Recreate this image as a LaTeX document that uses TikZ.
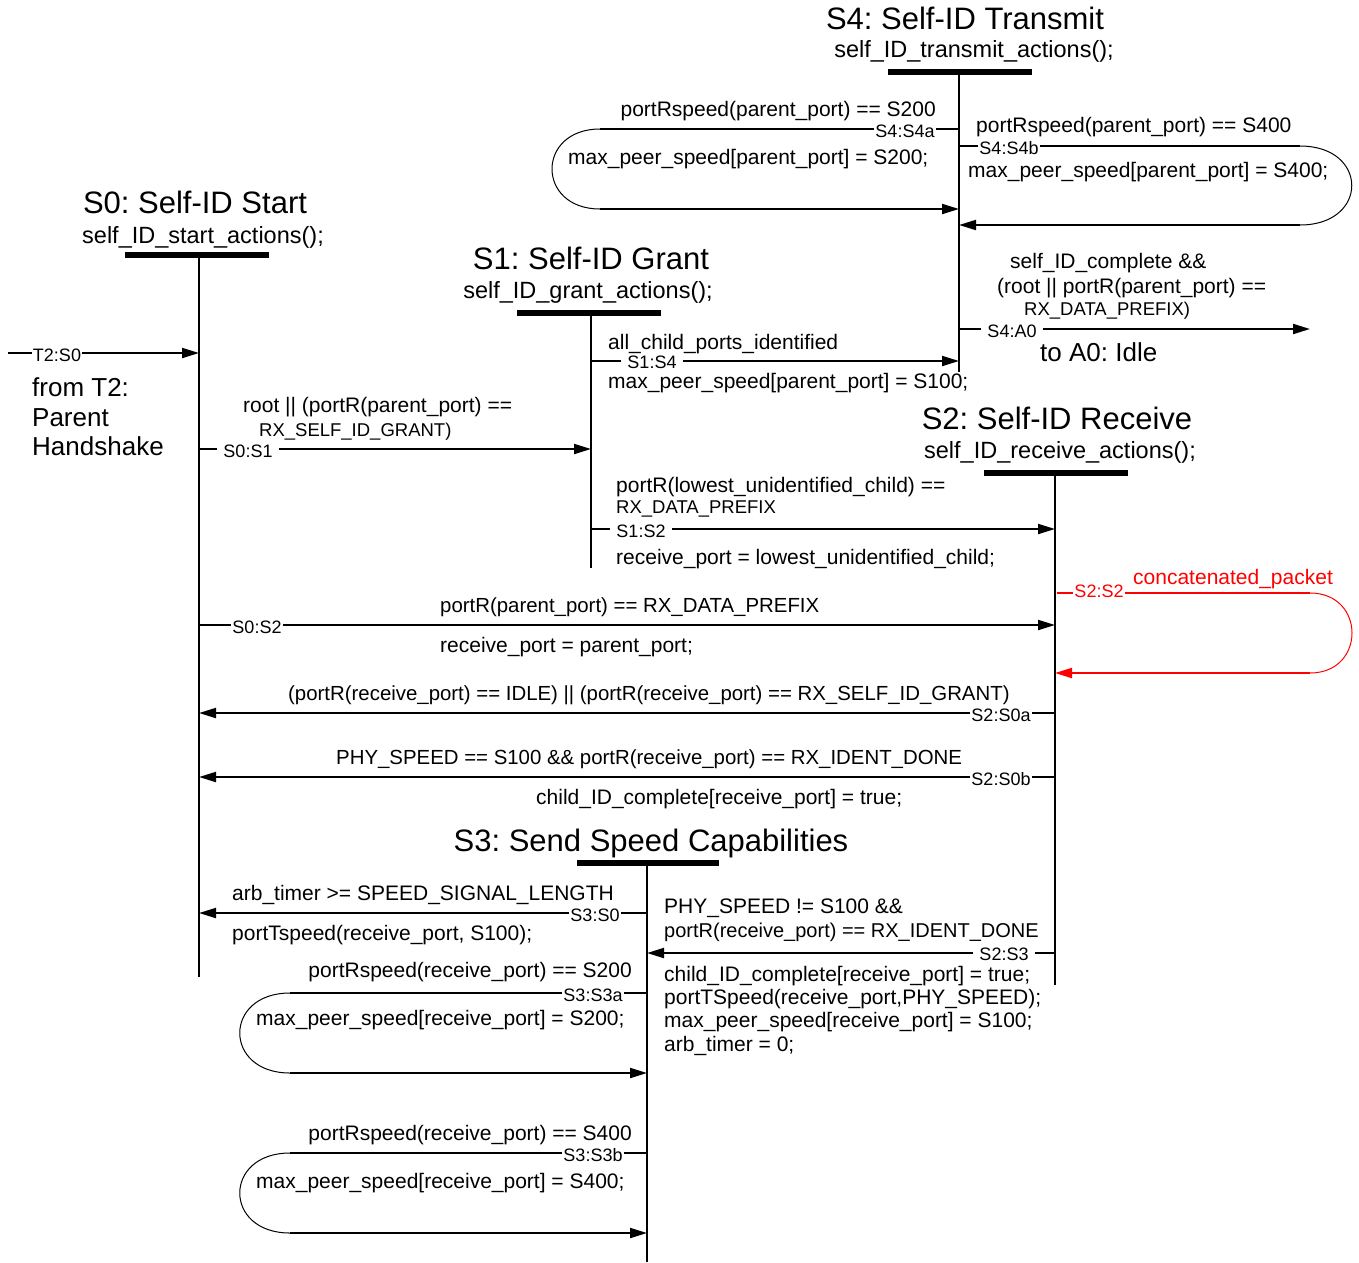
\documentclass[tikz,border=0pt]{standalone}
\usepackage{fontspec}
\setmainfont{Liberation Sans}
\usetikzlibrary{arrows.meta}
\frenchspacing
\begin{document}
\begin{tikzpicture}[x=1pt,y=-1pt,
  tt/.style={font=\fontsize{31}{34}\selectfont, inner sep=0pt, text height=22pt, text depth=2pt},
  st/.style={font=\fontsize{23.5}{27}\selectfont, inner sep=0pt, text height=17pt, text depth=1pt},
  bt/.style={font=\fontsize{26}{29.5}\selectfont, inner sep=0pt, align=left},
  nt/.style={font=\fontsize{21}{24}\selectfont, inner sep=0pt, text height=15pt, text depth=1pt},
  nts/.style={nt, font=\fontsize{20.4}{24}\selectfont},
  smt/.style={font=\fontsize{18.5}{21}\selectfont, inner sep=0pt, text height=13.3pt, text depth=1pt},
  lab/.style={font=\fontsize{18}{21}\selectfont, fill=white, inner xsep=1pt, inner ysep=0pt, text height=13pt, text depth=0pt},
  labw/.style={lab, inner xsep=6pt},
  bar/.style={line width=6pt},
  life/.style={line width=2.6pt},
  seg/.style={line width=2pt},
  tr/.style={line width=2pt, -{Triangle[length=17pt,width=10pt]}},
  arcl/.style={line width=1pt},
]
\useasboundingbox (0,0) rectangle (1359,1262);

% ---------- state bars and lifelines ----------
\coordinate (s0l) at (125,255); \coordinate (s0r) at (269,255);
\coordinate (s0t) at (199,255); \coordinate (s0e) at (199,977);
\coordinate (s1l) at (517,313); \coordinate (s1r) at (661,313);
\coordinate (s1t) at (591,313); \coordinate (s1e) at (591,568);
\coordinate (s2l) at (984,473); \coordinate (s2r) at (1128,473);
\coordinate (s2t) at (1055,473); \coordinate (s2e) at (1055,985);
\coordinate (s3l) at (577,863); \coordinate (s3r) at (719,863);
\coordinate (s3t) at (647,863); \coordinate (s3e) at (647,1262);
\coordinate (s4l) at (888,72); \coordinate (s4r) at (1032,72);
\coordinate (s4t) at (959,72); \coordinate (s4e) at (959,372);

\draw[life] (s0t) -- (s0e);
\draw[life] (s1t) -- (s1e);
\draw[life] (s2t) -- (s2e);
\draw[life] (s3t) -- (s3e);
\draw[life] (s4t) -- (s4e);
\draw[bar] (s0l) -- (s0r);
\draw[bar] (s1l) -- (s1r);
\draw[bar] (s2l) -- (s2r);
\draw[bar] (s3l) -- (s3r);
\draw[bar] (s4l) -- (s4r);

% ---------- titles ----------
\node[tt] (s4title) at (965,19) {S4: Self-ID Transmit};
\node[st] (s4sub) at (974,49) {self\_ID\_transmit\_actions();};
\node[tt] (s0title) at (195,203) {S0: Self-ID Start};
\node[st] (s0sub) at (203,235) {self\_ID\_start\_actions();};
\node[tt] (s1title) at (591,259) {S1: Self-ID Grant};
\node[st] (s1sub) at (588,290) {self\_ID\_grant\_actions();};
\node[tt] (s2title) at (1057,419) {S2: Self-ID Receive};
\node[st] (s2sub) at (1060,450) {self\_ID\_receive\_actions();};
\node[tt] (s3title) at (651,841) {S3: Send Speed Capabilities};

% ---------- transition end points ----------
\coordinate (t2a) at (8,353);     \coordinate (t2b) at (199,353);
\coordinate (s01a) at (199,449);  \coordinate (s01b) at (591,449);
\coordinate (s02a) at (199,625);  \coordinate (s02b) at (1055,625);
\coordinate (s14a) at (591,361);  \coordinate (s14b) at (959,361);
\coordinate (s12a) at (591,529);  \coordinate (s12b) at (1055,529);
\coordinate (s4a0a) at (959,329); \coordinate (s4a0b) at (1310,329);
\coordinate (s20aa) at (1055,713); \coordinate (s20ab) at (199,713);
\coordinate (s20ba) at (1055,777); \coordinate (s20bb) at (199,777);
\coordinate (s23a) at (1055,953); \coordinate (s23b) at (647,953);
\coordinate (s30a) at (647,913);  \coordinate (s30b) at (199,913);

\draw[tr] (t2a) -- (t2b);
\draw[tr] (s01a) -- (s01b);
\draw[tr] (s02a) -- (s02b);
\draw[tr] (s14a) -- (s14b);
\draw[tr] (s12a) -- (s12b);
\draw[tr] (s4a0a) -- (s4a0b);
\draw[tr] (s20aa) -- (s20ab);
\draw[tr] (s20ba) -- (s20bb);
\draw[tr] (s23a) -- (s23b);
\draw[tr] (s30a) -- (s30b);

% ---------- self loops ----------
% S4:S4a
\coordinate (l4a1) at (959,129); \coordinate (l4a2) at (600,129);
\coordinate (l4a3) at (600,209); \coordinate (l4a4) at (959,209);
\draw[seg] (l4a1) -- (l4a2);
\draw[arcl] (l4a2) .. controls (536,129) and (536,209) .. (l4a3);
\draw[tr] (l4a3) -- (l4a4);
% S4:S4b
\coordinate (l4b1) at (959,146); \coordinate (l4b2) at (1300,146);
\coordinate (l4b3) at (1300,225); \coordinate (l4b4) at (959,225);
\draw[seg] (l4b1) -- (l4b2);
\draw[arcl] (l4b2) .. controls (1369,146) and (1369,225) .. (l4b3);
\draw[tr] (l4b3) -- (l4b4);
% S2:S2
\coordinate (l22a) at (1057,593); \coordinate (l22b) at (1310,593);
\coordinate (l22c) at (1310,673); \coordinate (l22d) at (1055,673);
\draw[seg,red] (l22a) -- (l22b);
\draw[arcl,red] (l22b) .. controls (1366,593) and (1366,673) .. (l22c);
\draw[tr,red] (l22c) -- (l22d);
% S3:S3a
\coordinate (l3a1) at (647,993); \coordinate (l3a2) at (290,993);
\coordinate (l3a3) at (290,1073); \coordinate (l3a4) at (647,1073);
\draw[seg] (l3a1) -- (l3a2);
\draw[arcl] (l3a2) .. controls (223,993) and (223,1073) .. (l3a3);
\draw[tr] (l3a3) -- (l3a4);
% S3:S3b
\coordinate (l3b1) at (647,1153); \coordinate (l3b2) at (290,1153);
\coordinate (l3b3) at (290,1233); \coordinate (l3b4) at (647,1233);
\draw[seg] (l3b1) -- (l3b2);
\draw[arcl] (l3b2) .. controls (223,1153) and (223,1233) .. (l3b3);
\draw[tr] (l3b3) -- (l3b4);

% ---------- transition labels ----------
\node[lab] (lt2) at (57,355) {T2:S0};
\node[labw] (l01) at (248,451) {S0:S1};
\node[lab] (l02) at (257,627) {S0:S2};
\node[labw] (l14) at (652,362) {S1:S4};
\node[labw] (l12) at (641,531) {S1:S2};
\node[labw] (l4a0) at (1012,331) {S4:A0};
\node[lab] (l20a) at (1001,715) {S2:S0a};
\node[lab] (l20b) at (1001,779) {S2:S0b};
\node[labw] (l23) at (1004,954) {S2:S3};
\node[lab] (l30) at (595,915) {S3:S0};
\node[lab] (l4a) at (905,131) {S4:S4a};
\node[lab] (l4b) at (1009,148) {S4:S4b};
\node[lab,text=red] (l22) at (1099,591) {S2:S2};
\node[lab] (l3a) at (593,995) {S3:S3a};
\node[lab] (l3b) at (593,1155) {S3:S3b};

% ---------- conditions and actions ----------
% S4 loops
\node[nt,anchor=east] (c4a) at (936,109) {portRspeed(parent\_port) == S200};
\node[nt,anchor=west] (a4a) at (568,157) {max\_peer\_speed[parent\_port] = S200;};
\node[nt,anchor=west] (c4b) at (976,125) {portRspeed(parent\_port) == S400};
\node[nt,anchor=west] (a4b) at (968,170) {max\_peer\_speed[parent\_port] = S400;};
% S4:A0
\node[nt,anchor=west] (c4a0a) at (1010,261) {self\_ID\_complete \&\&};
\node[nt,anchor=west] (c4a0b) at (997,286) {(root || portR(parent\_port) ==};
\node[smt,anchor=west] (c4a0c) at (1024,309) {RX\_DATA\_PREFIX)};
\node[bt,anchor=west] (toa0) at (1040,352) {to A0: Idle};
% T2:S0
\node[bt,anchor=west] (fromt2) at (32,417) {from T2:\\Parent\\Handshake};
% S0:S1
\node[nt,anchor=west] (c01a) at (243,405) {root || (portR(parent\_port) ==};
\node[smt,anchor=west] (c01b) at (259,430) {RX\_SELF\_ID\_GRANT)};
% S0:S2
\node[nts,anchor=west] (c02) at (440,605) {portR(parent\_port) == RX\_DATA\_PREFIX};
\node[nt,anchor=west] (a02) at (440,645) {receive\_port = parent\_port;};
% S1:S4
\node[nt,anchor=west] (c14) at (608,342) {all\_child\_ports\_identified};
\node[nt,anchor=west] (a14) at (608,381) {max\_peer\_speed[parent\_port] = S100;};
% S1:S2
\node[nt,anchor=west] (c12a) at (616,485) {portR(lowest\_unidentified\_child) ==};
\node[smt,anchor=west] (c12b) at (616,507) {RX\_DATA\_PREFIX};
\node[nt,anchor=west] (a12) at (616,557) {receive\_port = lowest\_unidentified\_child;};
% S2:S2
\node[nt,anchor=west,text=red] (c22) at (1133,577) {concatenated\_packet};
% S2:S0a
\node[nts,anchor=west] (c20a) at (288,693) {(portR(receive\_port) == IDLE) || (portR(receive\_port) == RX\_SELF\_ID\_GRANT)};
% S2:S0b
\node[nts,anchor=west] (c20b) at (336,757) {PHY\_SPEED == S100 \&\& portR(receive\_port) == RX\_IDENT\_DONE};
\node[nt,anchor=west] (a20b) at (536,797) {child\_ID\_complete[receive\_port] = true;};
% S2:S3
\node[nt,anchor=west] (c23a) at (664,906) {PHY\_SPEED != S100 \&\&};
\node[nt,anchor=west,font=\fontsize{20}{23}\selectfont] (c23b) at (664,930) {portR(receive\_port) == RX\_IDENT\_DONE};
\node[nt,anchor=west] (a23a) at (664,974) {child\_ID\_complete[receive\_port] = true;};
\node[nt,anchor=west] (a23b) at (664,997) {portTSpeed(receive\_port,PHY\_SPEED);};
\node[nt,anchor=west] (a23c) at (664,1020) {max\_peer\_speed[receive\_port] = S100;};
\node[nt,anchor=west] (a23d) at (664,1044) {arb\_timer = 0;};
% S3:S0
\node[nt,anchor=west] (c30) at (232,893) {arb\_timer >= SPEED\_SIGNAL\_LENGTH};
\node[nt,anchor=west] (a30) at (232,933) {portTspeed(receive\_port, S100);};
% S3 loops
\node[nt,anchor=east] (c3a) at (632,970) {portRspeed(receive\_port) == S200};
\node[nt,anchor=west] (a3a) at (256,1018) {max\_peer\_speed[receive\_port] = S200;};
\node[nt,anchor=east] (c3b) at (632,1133) {portRspeed(receive\_port) == S400};
\node[nt,anchor=west] (a3b) at (256,1181) {max\_peer\_speed[receive\_port] = S400;};
\end{tikzpicture}
\end{document}
